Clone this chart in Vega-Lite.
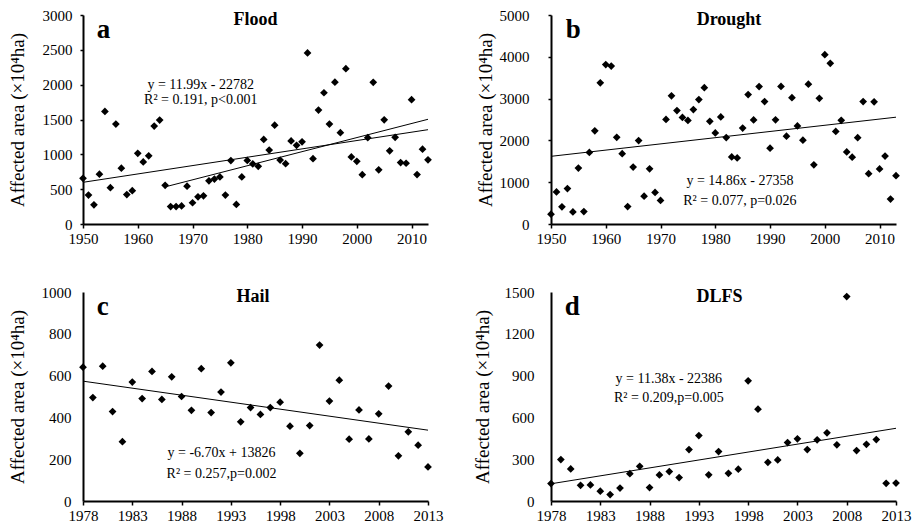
{
  "$schema": "https://vega.github.io/schema/vega-lite/v6.json",
  "padding": {"left": 8, "top": 8, "right": 5, "bottom": 5},
  "background": "white",
  "columns": 2,
  "spacing": {"row": 68, "column": 123},
  "bounds": "flush",
  "config": {
    "font": "Liberation Serif",
    "view": {"stroke": null},
    "axis": {"grid": false, "domainColor": "#000", "domainWidth": 2, "tickColor": "#000", "tickWidth": 1.5, "labelColor": "#000", "labelFont": "Liberation Serif", "labelFontSize": 15, "titleFont": "Liberation Serif", "titleFontSize": 19, "titleFontWeight": "normal", "titleColor": "#000", "labelFlush": false, "labelOverlap": false, "tickCount": 20},
    "text": {"font": "Liberation Serif", "color": "#000"}
  },
  "datasets": {
    "flood": [
      {"year":1950,"area":655},{"year":1951,"area":416},{"year":1952,"area":275},{"year":1953,"area":715},{"year":1954,"area":1615},{"year":1955,"area":522},{"year":1956,"area":1435},{"year":1957,"area":802},{"year":1958,"area":422},{"year":1959,"area":478},
      {"year":1960,"area":1015},{"year":1961,"area":890},{"year":1962,"area":978},{"year":1963,"area":1405},{"year":1964,"area":1492},{"year":1965,"area":555},{"year":1966,"area":250},{"year":1967,"area":250},{"year":1968,"area":259},{"year":1969,"area":542},
      {"year":1970,"area":305},{"year":1971,"area":390},{"year":1972,"area":405},{"year":1973,"area":620},{"year":1974,"area":645},{"year":1975,"area":675},{"year":1976,"area":416},{"year":1977,"area":910},{"year":1978,"area":280},{"year":1979,"area":675},
      {"year":1980,"area":912},{"year":1981,"area":862},{"year":1982,"area":828},{"year":1983,"area":1213},{"year":1984,"area":1061},{"year":1985,"area":1418},{"year":1986,"area":917},{"year":1987,"area":866},{"year":1988,"area":1193},{"year":1989,"area":1130},
      {"year":1990,"area":1180},{"year":1991,"area":2455},{"year":1992,"area":937},{"year":1993,"area":1636},{"year":1994,"area":1884},{"year":1995,"area":1435},{"year":1996,"area":2035},{"year":1997,"area":1311},{"year":1998,"area":2230},{"year":1999,"area":962},
      {"year":2000,"area":900},{"year":2001,"area":707},{"year":2002,"area":1239},{"year":2003,"area":2033},{"year":2004,"area":777},{"year":2005,"area":1496},{"year":2006,"area":1050},{"year":2007,"area":1244},{"year":2008,"area":882},{"year":2009,"area":872},
      {"year":2010,"area":1785},{"year":2011,"area":709},{"year":2012,"area":1073},{"year":2013,"area":921}
    ],
    "floodTrend": [
      {"seg":"1950-2013","year":1950,"area":598.5},{"seg":"1950-2013","year":2013,"area":1353.9},
      {"seg":"1965-2013","year":1965,"area":533},{"seg":"1965-2013","year":2013,"area":1503}
    ],
    "drought": [
      {"year":1950,"area":236},{"year":1951,"area":768},{"year":1952,"area":412},{"year":1953,"area":848},{"year":1954,"area":288},{"year":1955,"area":1337},{"year":1956,"area":298},{"year":1957,"area":1713},{"year":1958,"area":2230},{"year":1959,"area":3378},
      {"year":1960,"area":3815},{"year":1961,"area":3779},{"year":1962,"area":2073},{"year":1963,"area":1681},{"year":1964,"area":418},{"year":1965,"area":1361},{"year":1966,"area":1997},{"year":1967,"area":665},{"year":1968,"area":1321},{"year":1969,"area":756},
      {"year":1970,"area":565},{"year":1971,"area":2502},{"year":1972,"area":3066},{"year":1973,"area":2714},{"year":1974,"area":2550},{"year":1975,"area":2478},{"year":1976,"area":2738},{"year":1977,"area":2978},{"year":1978,"area":3262},{"year":1979,"area":2458},
      {"year":1980,"area":2180},{"year":1981,"area":2562},{"year":1982,"area":2068},{"year":1983,"area":1605},{"year":1984,"area":1580},{"year":1985,"area":2294},{"year":1986,"area":3098},{"year":1987,"area":2490},{"year":1988,"area":3287},{"year":1989,"area":2930},
      {"year":1990,"area":1813},{"year":1991,"area":2492},{"year":1992,"area":3292},{"year":1993,"area":2102},{"year":1994,"area":3022},{"year":1995,"area":2346},{"year":1996,"area":2006},{"year":1997,"area":3346},{"year":1998,"area":1417},{"year":1999,"area":3007},
      {"year":2000,"area":4050},{"year":2001,"area":3843},{"year":2002,"area":2214},{"year":2003,"area":2482},{"year":2004,"area":1725},{"year":2005,"area":1598},{"year":2006,"area":2066},{"year":2007,"area":2930},{"year":2008,"area":1205},{"year":2009,"area":2922},
      {"year":2010,"area":1317},{"year":2011,"area":1626},{"year":2012,"area":597},{"year":2013,"area":1156}
    ],
    "droughtTrend": [
      {"seg":"1950-2013","year":1950,"area":1619},{"seg":"1950-2013","year":2013,"area":2555}
    ],
    "hail": [
      {"year":1978,"area":640},{"year":1979,"area":495},{"year":1980,"area":645},{"year":1981,"area":428},{"year":1982,"area":284},{"year":1983,"area":569},{"year":1984,"area":490},{"year":1985,"area":620},{"year":1986,"area":486},{"year":1987,"area":594},
      {"year":1988,"area":500},{"year":1989,"area":434},{"year":1990,"area":633},{"year":1991,"area":423},{"year":1992,"area":521},{"year":1993,"area":661},{"year":1994,"area":379},{"year":1995,"area":447},{"year":1996,"area":414},{"year":1997,"area":447},
      {"year":1998,"area":473},{"year":1999,"area":358},{"year":2000,"area":228},{"year":2001,"area":361},{"year":2002,"area":746},{"year":2003,"area":478},{"year":2004,"area":578},{"year":2005,"area":296},{"year":2006,"area":436},{"year":2007,"area":297},
      {"year":2008,"area":417},{"year":2009,"area":550},{"year":2010,"area":216},{"year":2011,"area":331},{"year":2012,"area":267},{"year":2013,"area":163}
    ],
    "hailTrend": [
      {"seg":"1978-2013","year":1978,"area":573.4},{"seg":"1978-2013","year":2013,"area":338.9}
    ],
    "dlfs": [
      {"year":1978,"area":125},{"year":1979,"area":297},{"year":1980,"area":230},{"year":1981,"area":113},{"year":1982,"area":115},{"year":1983,"area":70},{"year":1984,"area":46},{"year":1985,"area":93},{"year":1986,"area":196},{"year":1987,"area":249},
      {"year":1988,"area":96},{"year":1989,"area":187},{"year":1990,"area":211},{"year":1991,"area":168},{"year":1992,"area":369},{"year":1993,"area":470},{"year":1994,"area":188},{"year":1995,"area":355},{"year":1996,"area":199},{"year":1997,"area":228},
      {"year":1998,"area":863},{"year":1999,"area":659},{"year":2000,"area":278},{"year":2001,"area":295},{"year":2002,"area":419},{"year":2003,"area":446},{"year":2004,"area":369},{"year":2005,"area":439},{"year":2006,"area":489},{"year":2007,"area":403},
      {"year":2008,"area":1467},{"year":2009,"area":362},{"year":2010,"area":407},{"year":2011,"area":441},{"year":2012,"area":127},{"year":2013,"area":129}
    ],
    "dlfsTrend": [
      {"seg":"1978-2013","year":1978,"area":123.6},{"seg":"1978-2013","year":2013,"area":521.9}
    ]
  },
  "concat": [
    {
      "width": 345, "height": 209,
      "layer": [
        {
          "data": {"name": "flood"},
          "mark": {"type": "point", "shape": "diamond", "filled": true, "color": "#000", "opacity": 1, "size": 60},
          "encoding": {
            "x": {"field": "year", "type": "quantitative", "title": null, "scale": {"domain": [1950, 2013], "nice": false, "zero": false}, "axis": {"values": [1950,1960,1970,1980,1990,2000,2010], "format": "d", "tickSize": 4, "labelPadding": 3, "labelOverlap": false, "tickCount": 20}},
            "y": {"field": "area", "type": "quantitative", "title": "Affected area (×10⁴ha)", "scale": {"domain": [0, 3000], "nice": false}, "axis": {"values": [0,500,1000,1500,2000,2500,3000], "format": "d", "tickSize": 3, "labelPadding": 8, "titlePadding": 15, "labelOverlap": false, "tickCount": 20}}
          }
        },
        {
          "data": {"name": "floodTrend"},
          "mark": {"type": "line", "color": "#000", "strokeWidth": 1},
          "encoding": {
            "x": {"field": "year", "type": "quantitative", "title": null},
            "y": {"field": "area", "type": "quantitative", "title": "Affected area (×10⁴ha)"},
            "detail": {"field": "seg"}
          }
        },
        {
          "data": {"values": [{"label": "a"}]},
          "mark": {"type": "text", "align": "left", "baseline": "alphabetic", "fontSize": 27, "fontWeight": "bold"},
          "encoding": {"x": {"datum": 1952.5, "type": "quantitative"}, "y": {"datum": 2670, "type": "quantitative"}, "text": {"field": "label"}}
        },
        {
          "data": {"values": [{"label": "Flood"}]},
          "mark": {"type": "text", "align": "center", "baseline": "middle", "fontSize": 18, "fontWeight": "bold"},
          "encoding": {"x": {"datum": 1981.5, "type": "quantitative"}, "y": {"datum": 2928, "type": "quantitative"}, "text": {"field": "label"}}
        },
        {
          "data": {"values": [{}]},
          "mark": {"type": "text", "align": "center", "baseline": "middle", "fontSize": 14, "lineHeight": 15, "text": ["y = 11.99x - 22782", "R² = 0.191, p<0.001"]},
          "encoding": {"x": {"datum": 1971.5, "type": "quantitative"}, "y": {"datum": 1995, "type": "quantitative"}}
        }
      ]
    },
    {
      "width": 345, "height": 209,
      "layer": [
        {
          "data": {"name": "drought"},
          "mark": {"type": "point", "shape": "diamond", "filled": true, "color": "#000", "opacity": 1, "size": 60},
          "encoding": {
            "x": {"field": "year", "type": "quantitative", "title": null, "scale": {"domain": [1950, 2013], "nice": false, "zero": false}, "axis": {"values": [1950,1960,1970,1980,1990,2000,2010], "format": "d", "tickSize": 4, "labelPadding": 3, "labelOverlap": false, "tickCount": 20}},
            "y": {"field": "area", "type": "quantitative", "title": "Affected area (×10⁴ha)", "scale": {"domain": [0, 5000], "nice": false}, "axis": {"values": [0,1000,2000,3000,4000,5000], "format": "d", "tickSize": 3, "labelPadding": 19, "titlePadding": 4, "labelOverlap": false, "tickCount": 20}}
          }
        },
        {
          "data": {"name": "droughtTrend"},
          "mark": {"type": "line", "color": "#000", "strokeWidth": 1},
          "encoding": {
            "x": {"field": "year", "type": "quantitative", "title": null},
            "y": {"field": "area", "type": "quantitative", "title": "Affected area (×10⁴ha)"},
            "detail": {"field": "seg"}
          }
        },
        {
          "data": {"values": [{"label": "b"}]},
          "mark": {"type": "text", "align": "left", "baseline": "alphabetic", "fontSize": 27, "fontWeight": "bold"},
          "encoding": {"x": {"datum": 1952.7, "type": "quantitative"}, "y": {"datum": 4447, "type": "quantitative"}, "text": {"field": "label"}}
        },
        {
          "data": {"values": [{"label": "Drought"}]},
          "mark": {"type": "text", "align": "center", "baseline": "middle", "fontSize": 18, "fontWeight": "bold"},
          "encoding": {"x": {"datum": 1982.5, "type": "quantitative"}, "y": {"datum": 4880, "type": "quantitative"}, "text": {"field": "label"}}
        },
        {
          "data": {"values": [{}]},
          "mark": {"type": "text", "align": "center", "baseline": "middle", "fontSize": 14, "lineHeight": 20, "text": ["y = 14.86x - 27358", "R² = 0.077, p=0.026"]},
          "encoding": {"x": {"datum": 1984.5, "type": "quantitative"}, "y": {"datum": 1017, "type": "quantitative"}}
        }
      ]
    },
    {
      "width": 345, "height": 209,
      "layer": [
        {
          "data": {"name": "hail"},
          "mark": {"type": "point", "shape": "diamond", "filled": true, "color": "#000", "opacity": 1, "size": 60},
          "encoding": {
            "x": {"field": "year", "type": "quantitative", "title": null, "scale": {"domain": [1978, 2013], "nice": false, "zero": false}, "axis": {"values": [1978,1983,1988,1993,1998,2003,2008,2013], "format": "d", "tickSize": 4, "labelPadding": 3, "labelOverlap": false, "tickCount": 20}},
            "y": {"field": "area", "type": "quantitative", "title": "Affected area (×10⁴ha)", "scale": {"domain": [0, 1000], "nice": false}, "axis": {"values": [0,200,400,600,800,1000], "format": "d", "tickSize": 0, "labelPadding": 12, "titlePadding": 14, "labelOverlap": false, "tickCount": 20}}
          }
        },
        {
          "data": {"name": "hailTrend"},
          "mark": {"type": "line", "color": "#000", "strokeWidth": 1},
          "encoding": {
            "x": {"field": "year", "type": "quantitative", "title": null},
            "y": {"field": "area", "type": "quantitative", "title": "Affected area (×10⁴ha)"},
            "detail": {"field": "seg"}
          }
        },
        {
          "data": {"values": [{"label": "c"}]},
          "mark": {"type": "text", "align": "left", "baseline": "alphabetic", "fontSize": 27, "fontWeight": "bold"},
          "encoding": {"x": {"datum": 1979.4, "type": "quantitative"}, "y": {"datum": 890, "type": "quantitative"}, "text": {"field": "label"}}
        },
        {
          "data": {"values": [{"label": "Hail"}]},
          "mark": {"type": "text", "align": "center", "baseline": "middle", "fontSize": 18, "fontWeight": "bold"},
          "encoding": {"x": {"datum": 1995.25, "type": "quantitative"}, "y": {"datum": 976, "type": "quantitative"}, "text": {"field": "label"}}
        },
        {
          "data": {"values": [{}]},
          "mark": {"type": "text", "align": "center", "baseline": "middle", "fontSize": 14, "lineHeight": 21, "text": ["y = -6.70x + 13826", "R² = 0.257,p=0.002"]},
          "encoding": {"x": {"datum": 1992.05, "type": "quantitative"}, "y": {"datum": 228, "type": "quantitative"}}
        }
      ]
    },
    {
      "width": 345, "height": 209,
      "layer": [
        {
          "data": {"name": "dlfs"},
          "mark": {"type": "point", "shape": "diamond", "filled": true, "color": "#000", "opacity": 1, "size": 60},
          "encoding": {
            "x": {"field": "year", "type": "quantitative", "title": null, "scale": {"domain": [1978, 2013], "nice": false, "zero": false}, "axis": {"values": [1978,1983,1988,1993,1998,2003,2008,2013], "format": "d", "tickSize": 4, "labelPadding": 3, "labelOverlap": false, "tickCount": 20}},
            "y": {"field": "area", "type": "quantitative", "title": "Affected area (×10⁴ha)", "scale": {"domain": [0, 1500], "nice": false}, "axis": {"values": [0,300,600,900,1200,1500], "format": "d", "tickSize": 0, "labelPadding": 17, "titlePadding": 12, "labelOverlap": false, "tickCount": 20}}
          }
        },
        {
          "data": {"name": "dlfsTrend"},
          "mark": {"type": "line", "color": "#000", "strokeWidth": 1},
          "encoding": {
            "x": {"field": "year", "type": "quantitative", "title": null},
            "y": {"field": "area", "type": "quantitative", "title": "Affected area (×10⁴ha)"},
            "detail": {"field": "seg"}
          }
        },
        {
          "data": {"values": [{"label": "d"}]},
          "mark": {"type": "text", "align": "left", "baseline": "alphabetic", "fontSize": 27, "fontWeight": "bold"},
          "encoding": {"x": {"datum": 1979.4, "type": "quantitative"}, "y": {"datum": 1335, "type": "quantitative"}, "text": {"field": "label"}}
        },
        {
          "data": {"values": [{"label": "DLFS"}]},
          "mark": {"type": "text", "align": "center", "baseline": "middle", "fontSize": 18, "fontWeight": "bold"},
          "encoding": {"x": {"datum": 1995.1, "type": "quantitative"}, "y": {"datum": 1464, "type": "quantitative"}, "text": {"field": "label"}}
        },
        {
          "data": {"values": [{}]},
          "mark": {"type": "text", "align": "center", "baseline": "middle", "fontSize": 14, "lineHeight": 19, "text": ["y = 11.38x - 22386", "R² = 0.209,p=0.005"]},
          "encoding": {"x": {"datum": 1989.95, "type": "quantitative"}, "y": {"datum": 876, "type": "quantitative"}}
        }
      ]
    }
  ]
}
